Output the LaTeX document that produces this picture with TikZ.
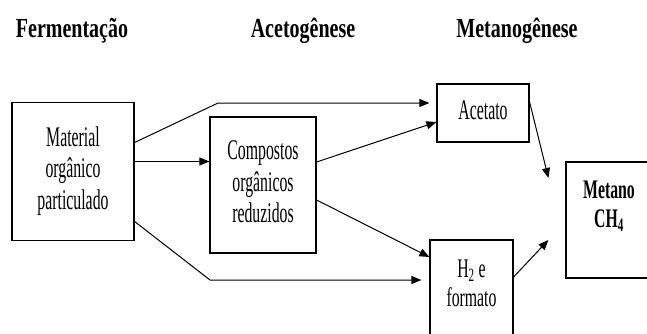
\documentclass[tikz,border=0pt]{standalone}
\usepackage{fontspec}
\setmainfont{Liberation Serif}
\usepackage{graphicx}
\usetikzlibrary{arrows.meta,positioning}
\newcommand{\stretchtxt}[2][1.8]{\scalebox{1}[#1]{\begin{tabular}{@{}c@{}}#2\end{tabular}}}
\tikzset{
    box/.style={
        shape=rectangle,
        draw,
        line width=1.2pt,
        inner sep=0pt,
        font=\fontsize{15.8}{17.5}\selectfont
    },
    phase/.style={
        font=\bfseries\fontsize{20}{22}\selectfont
    },
    flow/.style={
        -{Triangle[length=10pt,width=8pt]},
        line width=1pt
    }
}

\begin{document}
\begin{tikzpicture}[x=1pt, y=1pt]
		\useasboundingbox (0,0) rectangle (647,333);
		\clip (0,0) rectangle (647,333);
		
		\node (ferm) at (72,302) [phase] {\scalebox{1}[1.38]{Fermentação}};
		\node (aceto) at (303,302) [phase] {\scalebox{1}[1.38]{Acetogênese}};
		\node (metg) at (517,302) [phase] {\scalebox{1}[1.38]{Metanogênese}};
		
		\node (mat) at (73,161.5) [box, minimum width=122pt, minimum height=138pt] {\stretchtxt{Material\\orgânico\\particulado}};
		\node (comp) at (263,148) [box, minimum width=106pt, minimum height=136pt] {\stretchtxt{Compostos\\orgânicos\\reduzidos}};
		\node (acet) at (483,220) [box, minimum width=92pt, minimum height=58pt] {\stretchtxt{Acetato}};
		\node (h2) at (471.5,45) [box, minimum width=83pt, minimum height=96pt] {};
		\node (h2txt) at ([yshift=2pt]h2.center) [font=\fontsize{15.8}{17.5}\selectfont] {\stretchtxt[1.7]{H\textsubscript{2} e\\formato}};
		\node (met) at (609,113) [box, minimum width=86pt, minimum height=116pt] {};
		\node (mettxt) at ([yshift=13pt]met.center) [font=\bfseries\fontsize{15.8}{17.5}\selectfont] {\stretchtxt[1.7]{Metano\\CH\textsubscript{4}}};
		
		\coordinate (metin) at ([xshift=-17pt,yshift=42pt]met.west);
		\coordinate (metin2) at ([xshift=-17pt,yshift=-20pt]met.west);
		
		\draw [flow, shorten >=7pt] ([yshift=29pt]mat.east) -- (218,230) -- ([yshift=10pt]acet.west);
		\draw [flow] ([yshift=10pt]mat.east) -- ([yshift=10pt]mat.east -| comp.west);
		\draw [flow, shorten >=8pt] ([yshift=-50pt]mat.east) -- (210,53) -- ([yshift=8pt]h2.west);
		\draw [flow] ([yshift=23pt]comp.east) -- ([yshift=-9pt]acet.west);
		\draw [flow] ([yshift=-15pt]comp.east) -- ([yshift=31pt]h2.west);
		\draw [flow] ([yshift=11pt]acet.east) -- (metin);
		\draw [flow] ([yshift=11pt]h2.east) -- (metin2);
	\end{tikzpicture}
\end{document}
